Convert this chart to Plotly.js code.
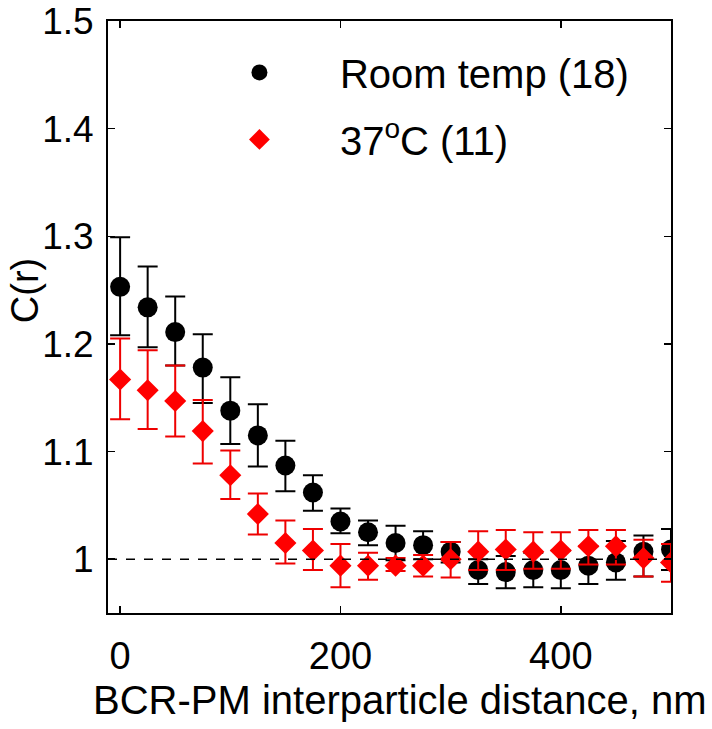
<!DOCTYPE html>
<html>
<head>
<meta charset="utf-8">
<script src="https://cdn.plot.ly/plotly-3.0.1.min.js"></script>
<style>html,body{margin:0;padding:0;background:#fff;}#plot{width:712px;height:729px;}</style>
</head>
<body>
<div id="plot"></div>
<script>
// distances (nm)
const distance = [0,25,50,75,100,125,150,175,200,225,250,275,300,325,350,375,400,425,450,475,500];

// Room temp (18): mean, upper and lower error-bar ends
const roomMean  = [1.253,1.234,1.211,1.178,1.138,1.115,1.087,1.062,1.035,1.025,1.015,1.013,1.007,0.990,0.988,0.990,0.990,0.994,0.997,1.007,1.009];
const roomUpper = [1.299,1.272,1.244,1.209,1.169,1.144,1.110,1.078,1.047,1.036,1.031,1.026,1.016,1.000,1.003,1.006,1.008,1.012,1.017,1.022,1.028];
const roomLower = [1.208,1.197,1.180,1.145,1.107,1.086,1.063,1.045,1.024,1.013,0.999,1.000,0.997,0.977,0.973,0.974,0.973,0.977,0.981,0.984,0.990];

// 37 C (11): mean, upper and lower error-bar ends
const warmMean  = [1.167,1.157,1.147,1.119,1.078,1.042,1.015,1.008,0.994,0.994,0.994,0.994,1.000,1.007,1.009,1.007,1.008,1.012,1.012,1.001,0.997];
const warmUpper = [1.205,1.194,1.180,1.148,1.101,1.061,1.036,1.028,1.014,1.006,1.001,1.004,1.016,1.026,1.027,1.025,1.025,1.027,1.027,1.018,1.014];
const warmLower = [1.130,1.121,1.114,1.089,1.056,1.023,0.996,0.990,0.974,0.981,0.989,0.984,0.983,0.990,0.990,0.991,0.991,0.995,0.995,0.984,0.979];

const seriesNames = ['Room temp (18)', '37<sup>o</sup>C (11)'];
const xTitle = 'BCR-PM interparticle distance, nm';
const yTitle = 'C(r)';
const xTickVals = [0,200,400];
const xTickText = ['0','200','400'];
const yTickVals = [1,1.1,1.2,1.3,1.4,1.5];
const yTickText = ['1','1.1','1.2','1.3','1.4','1.5'];

const up = (m,u) => u.map((v,i)=>+(v-m[i]).toFixed(4));
const dn = (m,l) => l.map((v,i)=>+(m[i]-v).toFixed(4));

const FONT = 'Arial, "Liberation Sans", Helvetica, sans-serif';

const traces = [
  {
    x: distance, y: roomMean, type:'scatter', mode:'markers', name: seriesNames[0],
    legendgroup:'a',
    marker:{symbol:'circle', size:20, color:'#000000'},
    error_y:{type:'data', symmetric:false, array:up(roomMean,roomUpper), arrayminus:dn(roomMean,roomLower), color:'#000000', thickness:2, width:10},
    cliponaxis:true
  },
  {
    x: distance, y: warmMean, type:'scatter', mode:'markers', name: seriesNames[1],
    legendgroup:'b',
    marker:{symbol:'diamond', size:17, color:'#ff0000'},
    error_y:{type:'data', symmetric:false, array:up(warmMean,warmUpper), arrayminus:dn(warmMean,warmLower), color:'#ee0000', thickness:2, width:10},
    cliponaxis:true
  }
];

const layout = {
  width:712, height:729,
  margin:{l:108, r:41, t:21, b:116},
  paper_bgcolor:'#ffffff', plot_bgcolor:'#ffffff',
  font:{family:FONT, color:'#000000', size:38},
  showlegend:true,
  legend:{
    x:0.126, y:0.968, xanchor:'left', yanchor:'top',
    bgcolor:'rgba(255,255,255,0)', borderwidth:0,
    font:{family:FONT, size:40, color:'#000000'},
    traceorder:'grouped', tracegroupgap:12,
    itemwidth:151, itemsizing:'trace'
  },
  xaxis:{
    range:[-11,500], tickvals:xTickVals, ticktext:xTickText,
    ticks:'inside', ticklen:7, tickwidth:1.5, tickcolor:'#000',
    showline:true, linewidth:2, linecolor:'#000', mirror:'ticks',
    showgrid:false, zeroline:false, ticklabelstandoff:8,
    tickfont:{family:FONT, size:38, color:'#000'}
  },
  yaxis:{
    range:[0.95,1.5], tickvals:yTickVals, ticktext:yTickText,
    ticks:'inside', ticklen:7, tickwidth:1.5, tickcolor:'#000',
    showline:true, linewidth:2, linecolor:'#000', mirror:'ticks',
    showgrid:false, zeroline:false, ticklabelstandoff:5,
    tickfont:{family:FONT, size:37, color:'#000'}
  },
  annotations:[
    {text:xTitle, xref:'paper', yref:'paper', x:0.5187, y:-0.147, xanchor:'center', yanchor:'middle',
     showarrow:false, font:{family:FONT, size:40, color:'#000'}},
    {text:yTitle, xref:'paper', yref:'paper', x:-0.147, y:0.544, xanchor:'center', yanchor:'middle',
     textangle:-90, showarrow:false, font:{family:FONT, size:38, color:'#000'}}
  ],
  shapes:[{
    type:'line', xref:'paper', x0:0, x1:1, yref:'y', y0:1, y1:1,
    line:{color:'#000', width:1.5, dash:'dash'}, layer:'above'
  }]
};

Plotly.newPlot('plot', traces, layout, {displayModeBar:false, staticPlot:true});
</script>
</body>
</html>
